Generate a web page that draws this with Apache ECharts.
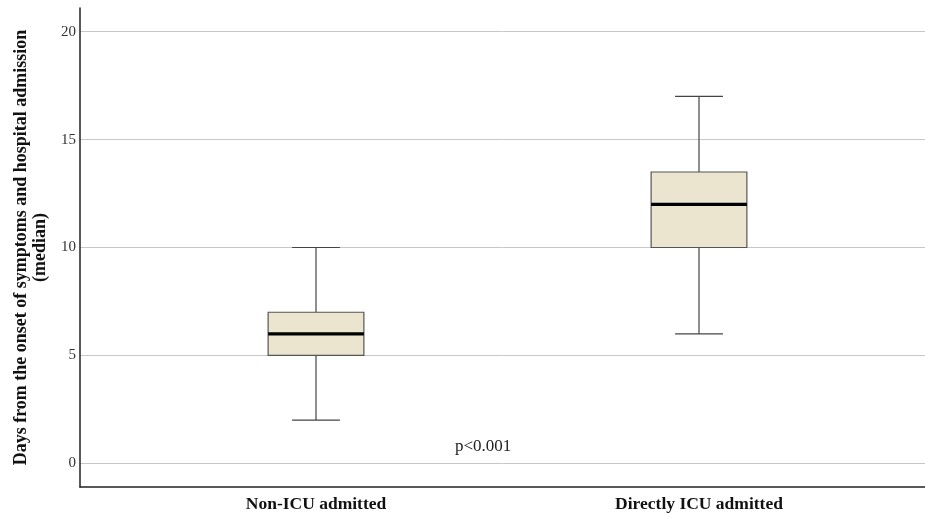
<!DOCTYPE html>
<html>
<head>
<meta charset="utf-8">
<script src="https://cdn.jsdelivr.net/npm/echarts@6/dist/echarts.min.js"></script>
<style>
  html, body { margin: 0; padding: 0; background: #fff; }
  #chart { width: 925px; height: 517px; }
</style>
</head>
<body>
<div id="chart"></div>
<script>
// categories and box statistics (min, Q1, median, Q3, max)
const categories = ['Non-ICU admitted', 'Directly ICU admitted'];
const whiskerLow = [2, 6];
const q1 = [5, 10];
const medians = [6, 12];
const q3 = [7, 13.5];
const whiskerHigh = [10, 17];
const yTicks = [0, 5, 10, 15, 20];

const boxData = categories.map((c, i) => [i, whiskerLow[i], q1[i], medians[i], q3[i], whiskerHigh[i]]);

const serif = '"Liberation Serif", "DejaVu Serif", serif';
const yMin = -1.1, yMax = 21.1;

const chart = echarts.init(document.getElementById('chart'));

chart.setOption({
  animation: false,
  grid: [
    // outer frame: y axis, grid lines, bottom axis line
    { left: 80, right: 0, top: 8, bottom: 30 },
    // inner grid where the two boxes sit
    { left: 124.5, right: 34.5, top: 8, bottom: 30 }
  ],
  xAxis: [
    {
      gridIndex: 0,
      type: 'category',
      data: [''],
      axisLine: { show: true, onZero: false, lineStyle: { color: '#222', width: 1.5 } },
      axisTick: { show: false },
      axisLabel: { show: false }
    },
    {
      gridIndex: 1,
      type: 'category',
      data: categories,
      axisLine: { show: false, onZero: false },
      axisTick: { show: false },
      axisLabel: {
        margin: 8,
        fontFamily: serif,
        fontWeight: 'bold',
        fontSize: 17.5,
        color: '#111'
      }
    }
  ],
  yAxis: [
    {
      gridIndex: 0,
      type: 'value',
      min: yMin,
      max: yMax,
      name: 'Days from the onset of symptoms and hospital admission\n(median)',
      nameLocation: 'middle',
      nameGap: 30,
      nameTextStyle: {
        fontFamily: serif,
        fontWeight: 'bold',
        fontSize: 18,
        color: '#111',
        lineHeight: 19
      },
      axisLine: { show: true, lineStyle: { color: '#222', width: 1.5 } },
      axisTick: { show: false, customValues: yTicks },
      axisLabel: {
        customValues: yTicks,
        margin: 4,
        fontFamily: serif,
        fontSize: 15,
        color: '#333'
      },
      splitLine: { show: true, lineStyle: { color: '#c8c8c8', width: 1 } }
    },
    {
      gridIndex: 1,
      type: 'value',
      min: yMin,
      max: yMax,
      show: false,
      splitLine: { show: false }
    }
  ],
  series: [
    {
      type: 'custom',
      xAxisIndex: 1,
      yAxisIndex: 1,
      data: boxData,
      renderItem: function (params, api) {
        const x = api.value(0);
        const bw = api.size([1, 0])[0] * 0.25;
        const capW = bw / 2;
        const pLow = api.coord([x, api.value(1)]);
        const pQ1 = api.coord([x, api.value(2)]);
        const pMed = api.coord([x, api.value(3)]);
        const pQ3 = api.coord([x, api.value(4)]);
        const pHigh = api.coord([x, api.value(5)]);
        const cx = pLow[0];
        const thin = { stroke: '#444', lineWidth: 1.2 };
        return {
          type: 'group',
          children: [
            { type: 'line', shape: { x1: cx, y1: pHigh[1], x2: cx, y2: pQ3[1] }, style: thin },
            { type: 'line', shape: { x1: cx, y1: pQ1[1], x2: cx, y2: pLow[1] }, style: thin },
            { type: 'line', shape: { x1: cx - capW / 2, y1: pHigh[1], x2: cx + capW / 2, y2: pHigh[1] }, style: thin },
            { type: 'line', shape: { x1: cx - capW / 2, y1: pLow[1], x2: cx + capW / 2, y2: pLow[1] }, style: thin },
            {
              type: 'rect',
              shape: { x: cx - bw / 2, y: pQ3[1], width: bw, height: pQ1[1] - pQ3[1] },
              style: { fill: '#ebe5d0', stroke: '#555', lineWidth: 1.2 }
            },
            {
              type: 'line',
              shape: { x1: cx - bw / 2, y1: pMed[1], x2: cx + bw / 2, y2: pMed[1] },
              style: { stroke: '#000', lineWidth: 3.2 }
            }
          ]
        };
      }
    }
  ],
  graphic: [
    {
      type: 'text',
      left: 455,
      top: 438,
      style: {
        text: 'p<0.001',
        fontFamily: serif,
        fontSize: 17,
        fill: '#222'
      }
    }
  ]
});
</script>
</body>
</html>
